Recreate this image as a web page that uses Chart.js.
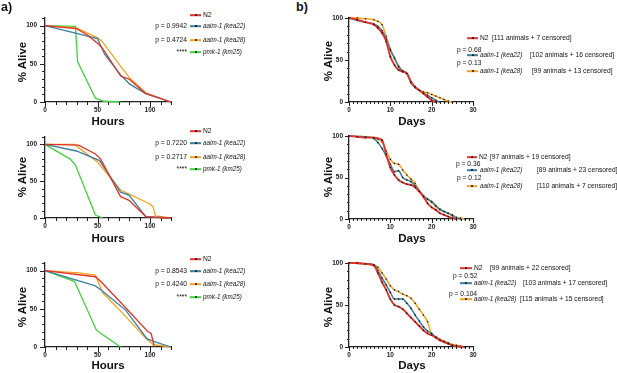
<!DOCTYPE html>
<html><head><meta charset="utf-8">
<script src="https://cdn.jsdelivr.net/npm/chart.js@4/dist/chart.umd.min.js"></script>
<style>
html,body{margin:0;padding:0;background:#fff;}
body{width:617px;height:373px;position:relative;overflow:hidden;font-family:"Liberation Sans",Arial,Helvetica,sans-serif;color:#111;}
canvas{position:absolute;}
.t{position:absolute;white-space:nowrap;line-height:1;}
.lab{font-weight:bold;font-size:12.5px;}
.ytitle{font-weight:bold;font-size:11.5px;transform:translate(-50%,-50%) rotate(-90deg);}
.xtitle{font-weight:bold;font-size:11.5px;transform:translate(-50%,-50%);}
.lg{font-size:6.7px;transform:translateY(-50%);}
.lgi{font-size:6.3px;font-style:italic;transform:translateY(-50%);}
.lgr{font-size:6.7px;transform:translate(-100%,-50%);}
.sw{position:absolute;height:1.6px;transform:translateY(-50%);}
.dot{position:absolute;width:2px;height:2px;background:#111;border-radius:50%;transform:translate(-50%,-50%);}
</style></head><body>
<script>
// ---------- tick labels & names ----------
const hourTicks=[0,50,100];
const dayTicks=[0,10,20,30];
const pctTicks=[0,50,100];
const seriesNames=['N2','aaim-1 (kea22)','aaim-1 (kea28)','pmk-1 (km25)'];

// ---------- a) top (hours, % alive) ----------
const a1_N2_h=[0,30,40,50,55,72,80,96,120];
const a1_N2_pct=[100,96,88,77,70,34,30,11,0];
const a1_k22_h=[0,30,50,57,73,81,96,120];
const a1_k22_pct=[100,90,83,62,34,23,11,0];
const a1_k28_h=[0,30,50,54,73,81,96,120];
const a1_k28_pct=[100,97,84,80,45,31,12,0];
const a1_pmk_h=[0,29,31,48,56,72];
const a1_pmk_pct=[100,99,53,5,1,0];
const a1_p=['','p = 0.9942','p = 0.4724','****'];

// ---------- a) middle ----------
const a2_N2_h=[0,32,48,53,72,80,96,104,120];
const a2_N2_pct=[100,99,87,80,29,24,2,1,0];
const a2_k22_h=[0,30,52,72,80,96,120];
const a2_k22_pct=[100,91,78,35,31,2,0];
const a2_k28_h=[0,28,50,72,100,103,105,120];
const a2_k28_pct=[100,100,76,38,19,15,3,0];
const a2_pmk_h=[0,24,29,48,55];
const a2_pmk_pct=[100,80,72,4,0];
const a2_p=['','p = 0.7220','p = 0.2717','****'];

// ---------- a) bottom ----------
const a3_N2_h=[0,48,53,77,98,101,103,104];
const a3_N2_pct=[100,92,86,51,20,18,7,0];
const a3_k22_h=[0,48,54,77,97,104,120];
const a3_k22_pct=[100,80,74,48,11,7,0];
const a3_k28_h=[0,32,48,55,72,97,103,120];
const a3_k28_pct=[100,97,94,71,47,10,3,0];
const a3_pmk_h=[0,28,49,54,72];
const a3_pmk_pct=[100,86,22,17,0];
const a3_p=['','p = 0.8543','p = 0.4240','****'];

// ---------- b) top (days, % alive) ----------
const b1_N2_d=[0,2,4,6,7,8,9,10,11,12,13,14,15,16,17,18,19,20,21];
const b1_N2_pct=[100,98,95,92,88,82,72,54,44,38,36,34,24,18,14,10,6,2,0];
const b1_k22_d=[0,2,4,6,7,8,9,10,11,12,13,14,15,16,17,18,19,20,21,22];
const b1_k22_pct=[100,97,95,93,90,85,75,62,52,42,37,34,23,17,14,11,8,5,2,0];
const b1_k28_d=[0,2,4,6,7,8,9,10,11,12,13,14,15,16,17,18,19,20,21,22,23,24,25];
const b1_k28_pct=[100,100,99,98,96,92,78,63,53,43,37,34,23,18,14,12,11,9,7,5,3,1,0];
const b1_p=['','p = 0.68','p = 0.13'];
const b1_counts=['[111 animals + 7 censored]','[102 animals + 16 censored]','[99 animals + 13 censored]'];

// ---------- b) middle ----------
const b2_N2_d=[0,2,4,6,8,9,10,11,12,13,14,15,16,17,18,19,20,21,22,23,24,25,26];
const b2_N2_pct=[100,99,98,98,95,78,62,53,47,44,42,41,38,33,27,19,14,11,7,5,3,1,0];
const b2_k22_d=[0,4,6,7,8,9,10,11,12,13,14,15,16,17,18,19,20,21,22,23,24,25,26,27];
const b2_k22_pct=[100,99,97,92,85,76,66,57,58,50,47,45,40,34,28,24,21,16,12,9,7,4,1,0];
const b2_k28_d=[0,4,6,7,8,9,10,11,12,13,14,15,16,17,18,19,20,21,22,23,24,25,26,27,28];
const b2_k28_pct=[100,99,98,96,93,82,72,67,66,59,53,48,43,34,28,24,20,15,11,9,7,5,2,1,0];
const b2_p=['','p = 0.36','p = 0.12'];
const b2_counts=['[97 animals + 19 censored]','[89 animals + 23 censored]','[110 animals + 7 censored]'];

// ---------- b) bottom ----------
const b3_N2_d=[0,2,4,6,7,8,9,10,11,12,13,14,15,16,17,18,19,20,21,22,23,24,25,26,28];
const b3_N2_pct=[100,100,99,97,88,77,68,57,50,48,45,40,35,30,25,20,16,14,11,8,6,4,2,1,0];
const b3_k22_d=[0,4,6,7,8,9,10,11,12,13,14,15,16,17,18,19,20,21,22,23,24,25,26,27];
const b3_k22_pct=[100,99,98,91,82,74,65,57,57,57,52,46,38,31,24,19,16,12,9,6,4,2,1,0];
const b3_k28_d=[0,4,6,7,8,9,10,11,12,13,14,15,16,17,18,19,20,21,22,23,24,25,26,27,28];
const b3_k28_pct=[100,99,98,95,88,81,73,68,66,63,61,58,52,45,38,30,15,12,9,7,5,3,2,1,0];
const b3_p=['','p = 0.52','p = 0.104'];
const b3_counts=['[99 animals + 22 censored]','[103 animals + 17 censored]','[115 animals + 15 censored]'];

// ---------- styling / layout ----------
const FONT='"Liberation Sans", Arial, Helvetica, sans-serif';
const COLORS=['#e2332a','#3a7f9f','#f4a31f','#3fd13f'];

// axis tick marks and tick labels, placed through the chart's own scales
const tickPlugin={id:'mt',afterDraw(ch,args,o){
  const ctx=ch.ctx,xs=ch.scales.x,ys=ch.scales.y,ca=ch.chartArea;
  ctx.save();ctx.strokeStyle='#222';ctx.lineWidth=1;
  for(let v=0;v<=xs.max+1e-9;v+=o.xm){
    const px=Math.round(xs.getPixelForValue(v))+0.5;
    const len=o.xt.includes(v)?o.major:o.minor;
    ctx.beginPath();ctx.moveTo(px,ca.bottom);ctx.lineTo(px,ca.bottom+len);ctx.stroke();
  }
  for(let v=0;v<=ys.max+1e-9;v+=o.ym){
    const py=Math.round(ys.getPixelForValue(v))+0.5;
    const len=pctTicks.includes(v)?o.major:o.minor;
    ctx.beginPath();ctx.moveTo(ca.left,py);ctx.lineTo(ca.left-len,py);ctx.stroke();
  }
  ctx.fillStyle='#222';ctx.font='bold 6.5px '+FONT;
  ctx.textAlign='center';ctx.textBaseline='middle';
  o.xt.forEach(v=>ctx.fillText(String(v),xs.getPixelForValue(v),ca.bottom+8.5));
  ctx.textAlign='right';
  pctTicks.forEach(v=>ctx.fillText(String(v),ca.left-o.ypad,ys.getPixelForValue(v)));
  ctx.restore();
}};

function makeChart(p){
  const yw=40,xh=18,pt=6,pr=10;
  const w=(p.r-p.l)+yw+pr,h=(p.b-p.t)+pt+xh;
  const c=document.createElement('canvas');
  c.width=w;c.height=h;
  c.style.left=(p.l-yw)+'px';c.style.top=(p.t-pt)+'px';
  c.style.width=w+'px';c.style.height=h+'px';
  document.body.appendChild(c);
  const datasets=p.series.map((s,i)=>({
    data:s[0].map((x,k)=>({x:x,y:s[1][k]})),
    borderColor:COLORS[i],
    borderWidth:p.days?(i===0?1.9:1.5):1.3,
    pointRadius:p.days?0.8:0,
    pointBackgroundColor:'#111',pointBorderWidth:0,
    cubicInterpolationMode:p.days?'monotone':'default',
    tension:0,clip:false,order:i
  }));
  new Chart(c,{type:'line',data:{datasets:datasets},
    options:{responsive:false,animation:false,devicePixelRatio:1,
      layout:{padding:{top:pt,right:pr,left:0,bottom:0}},
      plugins:{legend:{display:false},tooltip:{enabled:false},
        mt:{xt:p.xt,xm:p.xm,ym:p.ym,major:p.major,minor:p.minor,ypad:p.ypad}},
      scales:{
        x:{type:'linear',min:0,max:p.xmax,grid:{display:false},
          border:{color:'#222',width:1.3},ticks:{display:false},
          afterFit:s=>{s.height=xh;}},
        y:{type:'linear',min:0,max:p.ymax,grid:{display:false},
          border:{color:'#222',width:1.3},ticks:{display:false},
          afterFit:s=>{s.width=yw;}}
      }},
    plugins:[tickPlugin]});
}

function txt(cls,x,y,s){
  const d=document.createElement('div');d.className='t '+cls;
  d.style.left=x+'px';d.style.top=y+'px';d.textContent=s;
  document.body.appendChild(d);return d;
}
function swatch(x1,x2,y,color,dot){
  const d=document.createElement('div');d.className='sw';
  d.style.left=x1+'px';d.style.top=y+'px';d.style.width=(x2-x1)+'px';d.style.background=color;
  document.body.appendChild(d);
  if(dot){const e=document.createElement('div');e.className='dot';e.style.left=((x1+x2)/2)+'px';e.style.top=y+'px';document.body.appendChild(e);}
}

const aPanels=[
  {l:45,r:171,t:18,b:102,series:[[a1_N2_h,a1_N2_pct],[a1_k22_h,a1_k22_pct],[a1_k28_h,a1_k28_pct],[a1_pmk_h,a1_pmk_pct]],pv:a1_p,rows:[15,26,40,52],yt:62,xtl:122},
  {l:45,r:171,t:137,b:218,series:[[a2_N2_h,a2_N2_pct],[a2_k22_h,a2_k22_pct],[a2_k28_h,a2_k28_pct],[a2_pmk_h,a2_pmk_pct]],pv:a2_p,rows:[131,143,157,169],yt:177,xtl:239},
  {l:45,r:171,t:263,b:347,series:[[a3_N2_h,a3_N2_pct],[a3_k22_h,a3_k22_pct],[a3_k28_h,a3_k28_pct],[a3_pmk_h,a3_pmk_pct]],pv:a3_p,rows:[259,271,284,297],yt:307,xtl:366}
];
aPanels.forEach(p=>{
  makeChart(Object.assign({xmax:120,ymax:110,xt:hourTicks,xm:10,ym:10,major:5,minor:3,ypad:8,days:false},p));
  txt('ytitle',23,p.yt,'% Alive');
  txt('xtitle',108,p.xtl,'Hours');
  p.rows.forEach((y,i)=>{
    if(p.pv[i])txt('lgr',187,y,p.pv[i]);
    swatch(190,201,y,COLORS[i],true);
    txt(i===0?'lg':'lgi',203,y,seriesNames[i]);
  });
});

const bPanels=[
  {l:349,r:473,t:18,b:102,series:[[b1_N2_d,b1_N2_pct],[b1_k22_d,b1_k22_pct],[b1_k28_d,b1_k28_pct]],pv:b1_p,counts:b1_counts,yt:61,xtl:122,
   rows:[{y:38,sw:[467,478],nx:480,cx:492},{py:50,px:457,y:55,sw:[467,478],nx:480,cx:530},{py:63,px:457,y:71,sw:[467,478],nx:480,cx:532}]},
  {l:349,r:473,t:136,b:219,series:[[b2_N2_d,b2_N2_pct],[b2_k22_d,b2_k22_pct],[b2_k28_d,b2_k28_pct]],pv:b2_p,counts:b2_counts,yt:177,xtl:239,
   rows:[{y:157,sw:[467,477],nx:479,cx:490},{py:164,px:456,y:170,sw:[467,477],nx:480,cx:537},{py:178,px:457,y:186,sw:[467,477],nx:480,cx:537}]},
  {l:349,r:473,t:263,b:347,series:[[b3_N2_d,b3_N2_pct],[b3_k22_d,b3_k22_pct],[b3_k28_d,b3_k28_pct]],pv:b3_p,counts:b3_counts,yt:307,xtl:366,
   rows:[{y:268,sw:[460,472],nx:474,cx:490},{py:276,px:453,y:283,sw:[460,472],nx:474,cx:523},{py:294,px:449,y:299,sw:[460,472],nx:474,cx:520}]}
];
bPanels.forEach(p=>{
  makeChart(Object.assign({xmax:30,ymax:100,xt:dayTicks,xm:1,ym:10,major:4,minor:2,ypad:6,days:true},p));
  txt('ytitle',329,p.yt,'% Alive');
  txt('xtitle',412,p.xtl,'Days');
  p.rows.forEach((r,i)=>{
    if(p.pv[i])txt('lg',r.px,r.py,p.pv[i]);
    swatch(r.sw[0],r.sw[1],r.y,COLORS[i],true);
    txt(i===0?'lg':'lgi',r.nx,r.y,seriesNames[i]);
    txt('lg',r.cx,r.y,p.counts[i]);
  });
});

txt('lab',1,1,'a)');
txt('lab',296,1,'b)');
</script>
</body></html>
